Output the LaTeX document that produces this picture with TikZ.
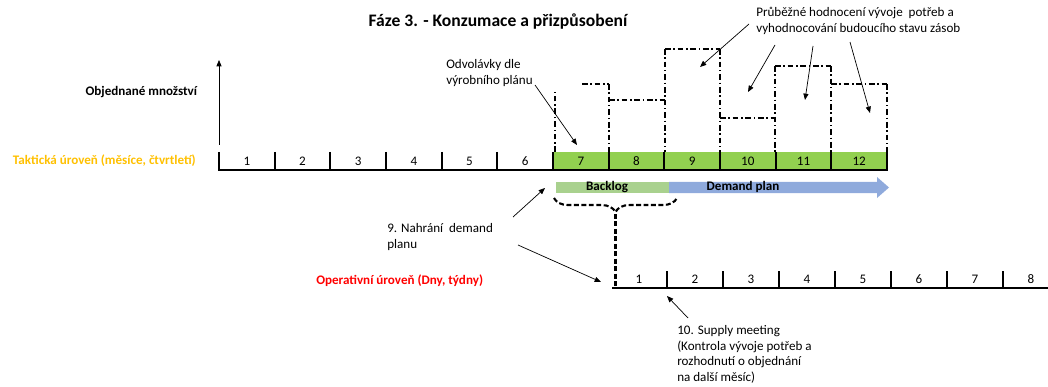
\documentclass[tikz,border=0pt]{standalone}
\usepackage{fontspec}
\setmainfont{Carlito}
\usetikzlibrary{arrows.meta,positioning,decorations.pathreplacing}

\definecolor{cellgreen}{HTML}{92D050}
\definecolor{backloggreen}{HTML}{A9D18E}
\definecolor{planblue}{HTML}{8FAADC}
\definecolor{tactorange}{HTML}{FFC000}

\begin{document}
\begin{tikzpicture}[x=0.025cm, y=-0.025cm,
    font=\fontsize{9.3}{11.2}\selectfont,
    axis/.style={line width=1.4pt},
    plan/.style={line width=0.8pt, dash pattern=on 4pt off 2pt on 1pt off 2pt},
    pointer/.style={line width=0.5pt, -{Triangle[length=4.5pt,width=3.6pt]}},
    heading/.style={font=\bfseries\fontsize{9.3}{11.2}\selectfont},
    note/.style={align=left, anchor=north west, inner sep=0pt}]

    \useasboundingbox (0,0) rectangle (1048,387);

    \node[font=\bfseries\fontsize{12.5}{14}\selectfont] (title) at (498,22) {Fáze 3. - Konzumace a přizpůsobení};

    % tacticka uroven
    \foreach \i in {7,...,12}
        \fill[cellgreen] ({219+55.67*(\i-1)},152) rectangle ({219+55.67*\i},170);
    \foreach \i in {1,...,12}
        \node (t\i) at ({219+55.67*(\i-0.5)},161) {\i};
    \foreach \i in {0,...,12}
        \draw[axis] ({219+55.67*\i},152) -- ({219+55.67*\i},170);
    \draw[axis] (218.3,170) -- (887.7,170);

    \coordinate (origin) at (219,145);
    \coordinate (ytop) at (219,60);
    \draw[pointer] (origin) -- (ytop);

    \node[heading, anchor=east] (qty) at (202,92) {Objednané množství};
    \node[heading, anchor=west, text=tactorange] (tact) at (8,161) {Taktická úroveň (měsíce, čtvrtletí)};

    % objednavky nad mesici 7-12
    \draw[plan] (555,152) -- (555,89);
    \draw[plan] (582,84) -- (609,84);
    \draw[plan] (609,100) -- (665,100);
    \draw[plan] (665,49) -- (720,49);
    \draw[plan] (720,118) -- (775,118);
    \draw[plan] (775,66) -- (831,66);
    \draw[plan] (831,84) -- (887,84);
    \foreach \x/\y in {609/84, 665/49, 720/49, 775/66, 831/66, 887/84}
        \draw[plan] (\x,\y) -- (\x,152);

    % backlog + demand plan
    \fill[backloggreen] (556,182) rectangle (669,193);
    \fill[planblue] (669,182) -- (877,182) -- (877,177) -- (889,187.5)
        -- (877,198) -- (877,193) -- (669,193) -- cycle;
    \node[heading] (backlog) at (607,187.5) {Backlog};
    \node[heading] (demand) at (743,187) {Demand plan};

    \draw[line width=1.5pt, dash pattern=on 3.5pt off 1.8pt, decorate,
        decoration={brace, mirror, amplitude=10pt}] (554,198) -- (677,198);
    \coordinate (bracetip) at (615.5,214);
    \coordinate (opstart) at (615.5,288);
    \draw[line width=1.5pt, dash pattern=on 3.5pt off 1.8pt] (bracetip) -- (opstart);

    % operativni uroven
    \foreach \i in {0,...,6}
        \draw[axis] ({667+56*\i},271) -- ({667+56*\i},288);
    \draw[axis] (612,288) -- (1048,288);
    \foreach \i in {1,...,8}
        \node (o\i) at ({611+56*(\i-0.5)},279) {\i};

    \node[heading, anchor=east, text=red] (oper) at (488,281) {Operativní úroveň (Dny, týdny)};

    % poznamky
    \node[note] (odv) at (446,59) {Odvolávky dle\\výrobního plánu};
    \node[note] (eval) at (756,7) {Průběžné hodnocení vývoje\ \ potřeb a\\vyhodnocování budoucího stavu zásob};
    \node[note] (upload) at (387,223) {9. Nahrání\ \ demand\\planu};
    \node[note] (supply) at (677,325) {10. Supply meeting\\(Kontrola vývoje potřeb a\\rozhodnutí o objednání\\na další měsíc)};

    \coordinate (odv-s) at (535,85);
    \coordinate (odv-e) at (577,145);
    \draw[pointer] (odv-s) -- (odv-e);

    \coordinate (eval-a) at (749,24);
    \coordinate (eval-b) at (775,45);
    \coordinate (eval-c) at (813,46);
    \coordinate (eval-d) at (850,42);
    \draw[pointer] (eval-a) -- (700,67);
    \draw[pointer] (eval-b) -- (748,92);
    \draw[pointer] (eval-c) -- (805,100);
    \draw[pointer] (eval-d) -- (870,113);

    \coordinate (upload-a) at (513,217);
    \coordinate (upload-b) at (518,245);
    \draw[pointer] (upload-a) -- (545,188);
    \draw[pointer] (upload-b) -- (601,282);

    \coordinate (supply-s) at (688,318);
    \draw[pointer] (supply-s) -- (667,296);
\end{tikzpicture}
\end{document}
